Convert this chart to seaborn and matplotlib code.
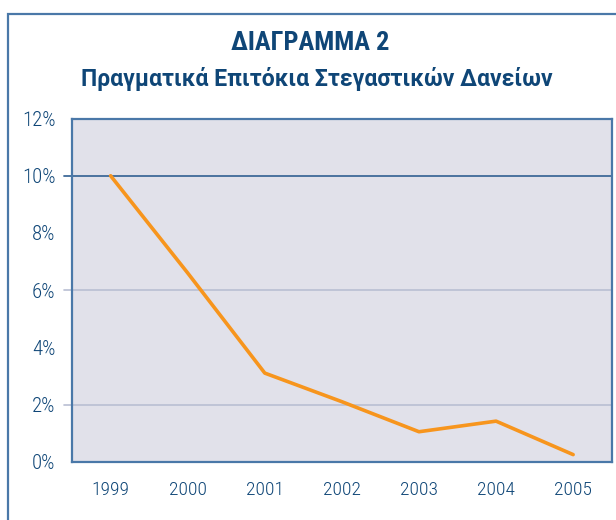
import matplotlib
matplotlib.use("Agg")
import matplotlib.pyplot as plt
import matplotlib.patches as patches
from matplotlib import font_manager as fm
from matplotlib.ticker import FixedLocator, FuncFormatter
import seaborn as sns
import pandas as pd

years = ['1999', '2000', '2001', '2002', '2003', '2004', '2005']
rates = [10.0, 6.6, 3.1, 2.1, 1.05, 1.42, 0.25]
y_ticks = [0, 2, 4, 6, 8, 10, 12]

title = 'ΔΙΑΓΡΑΜΜΑ 2'
subtitle = 'Πραγματικά Επιτόκια Στεγαστικών Δανείων'

navy = '#0f4677'
frame_blue = '#4a78a8'

installed = {f.name for f in fm.fontManager.ttflist}
candidates = ['Roboto Condensed', 'Liberation Sans Narrow', 'Open Sans Condensed',
              'PT Sans Narrow', 'Archivo Narrow', 'DejaVu Sans Condensed']
narrow = [c for c in candidates if c in installed][:1] + ['DejaVu Sans']
wide = ['Roboto', 'DejaVu Sans']

sns.set_style('white')
plt.rcParams['font.family'] = narrow

df = pd.DataFrame({'year': years, 'rate': rates})

fig = plt.figure(figsize=(6.16, 5.2), dpi=100)
ax = fig.add_axes([0.117, 0.112, 0.876, 0.660])
ax.set_facecolor('#e1e1ea')

# outer box around the whole chart
fig.patches.append(patches.Rectangle((0.013, -0.05), 1.2, 1.023, transform=fig.transFigure,
                                     fill=False, edgecolor=frame_blue, linewidth=1.6))

for yv, c, lw in [(2, '#b9bfd3', 1.2), (6, '#b9bfd3', 1.2), (10, '#3f6a99', 1.3)]:
    ax.axhline(yv, color=c, lw=lw, zorder=1)
    ax.plot([-0.6, -0.5], [yv, yv], color=c, lw=lw, clip_on=False)

sns.lineplot(data=df, x='year', y='rate', color='#f7951d', linewidth=2.6, ax=ax,
             sort=False, zorder=3)

ax.set_xlim(-0.5, 6.5)
ax.set_ylim(0, 12)
ax.set_yticks(y_ticks)
ax.yaxis.set_major_formatter(FuncFormatter(lambda v, p: f'{v:.0f}%'))
ax.set_xticks(range(len(years)))
ax.set_xticklabels(years)
ax.xaxis.set_minor_locator(FixedLocator([i - 0.5 for i in range(len(years) + 1)]))
ax.tick_params(axis='x', which='major', length=0, pad=14, labelsize=14, labelcolor=navy)
ax.tick_params(axis='x', which='minor', length=6, color='#b9bfd3', width=1.2, direction='out')
ax.tick_params(axis='y', length=0, pad=12, labelsize=15, labelcolor=navy)
for lab in ax.get_xticklabels() + ax.get_yticklabels():
    lab.set_fontweight('light')
ax.set_xlabel('')
ax.set_ylabel('')

for s in ax.spines.values():
    s.set_color(frame_blue)
    s.set_linewidth(1.6)

fig.text(0.503, 0.918, title, ha='center', va='center', fontsize=19, fontweight='bold',
         color=navy, family=narrow)
fig.text(0.515, 0.848, subtitle, ha='center', va='center', fontsize=16.6, fontweight='bold',
         color=navy, family=wide)

fig.savefig('out.png', dpi=100, facecolor='white')
